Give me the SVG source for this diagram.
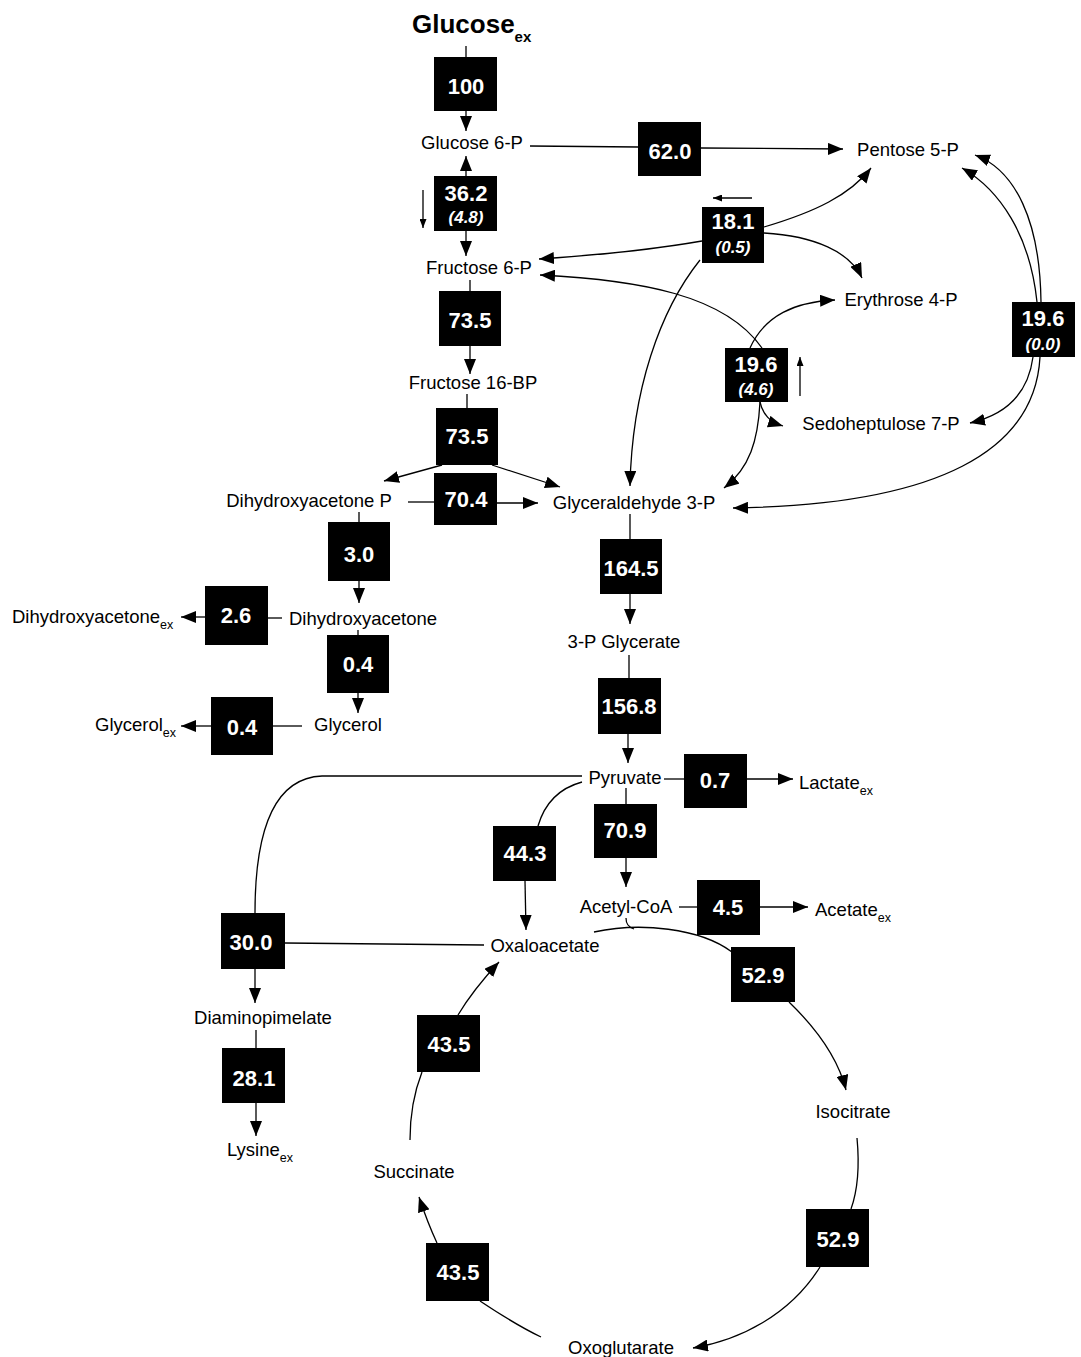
<svg xmlns="http://www.w3.org/2000/svg" width="1081" height="1357" viewBox="0 0 1081 1357">
<style>
.bg{fill:#fff}
.box{fill:#000}
.num{font-family:"Liberation Sans",Arial,sans-serif;font-weight:bold;font-size:22px;fill:#fff;text-anchor:middle}
.sub2{font-family:"Liberation Sans",Arial,sans-serif;font-weight:bold;font-style:italic;font-size:17px;fill:#fff;text-anchor:middle}
.lbl{font-family:"Liberation Sans",Arial,sans-serif;font-size:18.5px;fill:#000;text-anchor:middle}
.lbs{font-family:"Liberation Sans",Arial,sans-serif;font-size:18.5px;fill:#000}
.ex{font-size:12.5px}
.ln{fill:none;stroke:#000;stroke-width:1.3}
.ar{marker-end:url(#ah)}
.sa{marker-end:url(#sh)}
</style>
<defs>
<marker id="ah" markerUnits="userSpaceOnUse" markerWidth="15" markerHeight="12" refX="15" refY="6" orient="auto"><path d="M0,0 L15,6 L0,12 z" fill="#000"/></marker>
<marker id="sh" markerUnits="userSpaceOnUse" markerWidth="9" markerHeight="7" refX="9" refY="3.5" orient="auto"><path d="M0,0 L9,3.5 L0,7 z" fill="#000"/></marker>
</defs>
<rect class="bg" x="0" y="0" width="1081" height="1357"/>

<g id="connectors">
<path class="ln" d="M466 46 L466 57"/>
<path class="ln ar" d="M466 111 L466 131"/>
<path class="ln ar" d="M466 176 L466 156"/>
<path class="ln ar" d="M466 231 L466 256"/>
<path class="ln sa" d="M423 190 L423 228"/>
<path class="ln" d="M530 146 L638 147"/>
<path class="ln ar" d="M701 148 L843 149"/>
<path class="ln" d="M470 280 L470 291"/>
<path class="ln ar" d="M470 346 L470 374"/>
<path class="ln" d="M467 394 L467 408"/>
<path class="ln ar" d="M442 465 L384 481"/>
<path class="ln ar" d="M492 465 L560 487"/>
<path class="ln" d="M408 502 L434 502"/>
<path class="ln ar" d="M497 503 L538 503"/>
<path class="ln ar" d="M702 241 C650 250 600 255 539 259"/>
<path class="ln ar" d="M762 348 C725 295 640 280 540 275"/>
<path class="ln ar" d="M700 260 C660 310 632 390 630 486"/>
<path class="ln ar" d="M764 227 C815 212 850 195 871 168"/>
<path class="ln ar" d="M764 233 C815 236 850 252 862 278"/>
<path class="ln sa" d="M752 198 L713 198"/>
<path class="ln ar" d="M750 348 C765 315 795 302 835 300"/>
<path class="ln ar" d="M760 402 C763 415 770 422 783 426"/>
<path class="ln ar" d="M760 402 C758 440 750 468 724 488"/>
<path class="ln sa" d="M800 396 L800 357"/>
<path class="ln ar" d="M1041 302 C1040 220 1015 170 975 155"/>
<path class="ln ar" d="M1037 302 C1030 235 1000 190 962 168"/>
<path class="ln ar" d="M1033 357 C1028 395 1005 415 970 423"/>
<path class="ln ar" d="M1040 357 C1035 450 940 505 733 508"/>
<path class="ln" d="M359 512 L359 522"/>
<path class="ln ar" d="M359 581 L359 603"/>
<path class="ln" d="M282 618 L268 618"/>
<path class="ln ar" d="M205 617 L181 617"/>
<path class="ln" d="M358 630 L358 635"/>
<path class="ln ar" d="M358 693 L358 713"/>
<path class="ln" d="M302 726 L273 726"/>
<path class="ln ar" d="M211 726 L181 726"/>
<path class="ln" d="M630 514 L630 539"/>
<path class="ln ar" d="M630 594 L630 624"/>
<path class="ln" d="M629 655 L629 678"/>
<path class="ln ar" d="M628 734 L628 763"/>
<path class="ln" d="M664 779 L684 779"/>
<path class="ln ar" d="M747 779 L793 779"/>
<path class="ln" d="M626 788 L626 804"/>
<path class="ln ar" d="M626 858 L626 887"/>
<path class="ln" d="M582 782 C560 788 545 802 538 826"/>
<path class="ln ar" d="M525 881 L526 930"/>
<path class="ln" d="M582 776 L322 776 C270 778 255 840 255 913"/>
<path class="ln" d="M285 943 L484 945"/>
<path class="ln ar" d="M255 969 L255 1003"/>
<path class="ln" d="M256 1030 L256 1048"/>
<path class="ln ar" d="M256 1103 L256 1136"/>
<path class="ln" d="M679 907 L697 907"/>
<path class="ln ar" d="M760 907 L808 907"/>
<path class="ln" d="M594 932 C640 922 700 928 732 952"/>
<path class="ln" d="M626 918 C626 924 628 927 634 929"/>
<path class="ln ar" d="M789 1002 C818 1030 838 1058 846 1090"/>
<path class="ln" d="M857 1138 C860 1170 856 1195 851 1209"/>
<path class="ln ar" d="M820 1267 C790 1315 740 1340 693 1348"/>
<path class="ln" d="M541 1337 C520 1327 498 1313 480 1301"/>
<path class="ln ar" d="M437 1243 C430 1228 424 1212 419 1197"/>
<path class="ln" d="M410 1140 C410 1110 415 1090 422 1072"/>
<path class="ln ar" d="M458 1015 C470 995 485 977 499 962"/>
</g>

<g id="metabolites">
<g id="glucose-ex"><text x="412" y="33" font-family="Liberation Sans, Arial, sans-serif" font-weight="bold" font-size="26">Glucose<tspan font-size="15" dy="9">ex</tspan></text></g>
<g id="glucose6p"><text class="lbl" x="472" y="149">Glucose 6-P</text></g>
<g id="pentose5p"><text class="lbl" x="908" y="156">Pentose 5-P</text></g>
<g id="fructose6p"><text class="lbl" x="479" y="274">Fructose 6-P</text></g>
<g id="erythrose4p"><text class="lbl" x="901" y="306">Erythrose 4-P</text></g>
<g id="fructose16bp"><text class="lbl" x="473" y="389">Fructose 16-BP</text></g>
<g id="sedoheptulose7p"><text class="lbl" x="881" y="430">Sedoheptulose 7-P</text></g>
<g id="dhap"><text class="lbl" x="309" y="507">Dihydroxyacetone P</text></g>
<g id="g3p"><text class="lbl" x="634" y="509">Glyceraldehyde 3-P</text></g>
<g id="dha-ex"><text class="lbs" x="12" y="623">Dihydroxyacetone<tspan class="ex" dy="6">ex</tspan></text></g>
<g id="dha"><text class="lbl" x="363" y="625">Dihydroxyacetone</text></g>
<g id="3pg"><text class="lbl" x="624" y="648">3-P Glycerate</text></g>
<g id="glycerol-ex"><text class="lbs" x="95" y="731">Glycerol<tspan class="ex" dy="6">ex</tspan></text></g>
<g id="glycerol"><text class="lbl" x="348" y="731">Glycerol</text></g>
<g id="pyruvate"><text class="lbl" x="625" y="784">Pyruvate</text></g>
<g id="lactate-ex"><text class="lbs" x="799" y="789">Lactate<tspan class="ex" dy="6">ex</tspan></text></g>
<g id="acetylcoa"><text class="lbl" x="626" y="913">Acetyl-CoA</text></g>
<g id="acetate-ex"><text class="lbs" x="815" y="916">Acetate<tspan class="ex" dy="6">ex</tspan></text></g>
<g id="oxaloacetate"><text class="lbl" x="545" y="952">Oxaloacetate</text></g>
<g id="diaminopimelate"><text class="lbl" x="263" y="1024">Diaminopimelate</text></g>
<g id="lysine-ex"><text class="lbs" x="227" y="1156">Lysine<tspan class="ex" dy="6">ex</tspan></text></g>
<g id="isocitrate"><text class="lbl" x="853" y="1118">Isocitrate</text></g>
<g id="succinate"><text class="lbl" x="414" y="1178">Succinate</text></g>
<g id="oxoglutarate"><text class="lbl" x="621" y="1354">Oxoglutarate</text></g>
</g>

<g id="fluxes">
<g id="f100"><rect class="box" x="434" y="57" width="63" height="54"/><text class="num" x="466" y="94">100</text></g>
<g id="f62"><rect class="box" x="638" y="122" width="63" height="54"/><text class="num" x="670" y="159">62.0</text></g>
<g id="f36"><rect class="box" x="434" y="176" width="63" height="55"/><text class="num" x="466" y="201">36.2</text><text class="sub2" x="466" y="223">(4.8)</text></g>
<g id="f18"><rect class="box" x="702" y="207" width="62" height="56"/><text class="num" x="733" y="229">18.1</text><text class="sub2" x="733" y="253">(0.5)</text></g>
<g id="f73a"><rect class="box" x="439" y="291" width="62" height="55"/><text class="num" x="470" y="328">73.5</text></g>
<g id="f19a"><rect class="box" x="725" y="348" width="63" height="54"/><text class="num" x="756" y="372">19.6</text><text class="sub2" x="756" y="395">(4.6)</text></g>
<g id="f19b"><rect class="box" x="1012" y="302" width="63" height="55"/><text class="num" x="1043" y="326">19.6</text><text class="sub2" x="1043" y="350">(0.0)</text></g>
<g id="f73b"><rect class="box" x="436" y="408" width="62" height="57"/><text class="num" x="467" y="444">73.5</text></g>
<g id="f70"><rect class="box" x="434" y="473" width="63" height="52"/><text class="num" x="466" y="507">70.4</text></g>
<g id="f3"><rect class="box" x="328" y="522" width="62" height="59"/><text class="num" x="359" y="562">3.0</text></g>
<g id="f26"><rect class="box" x="205" y="586" width="63" height="59"/><text class="num" x="236" y="623">2.6</text></g>
<g id="f04a"><rect class="box" x="327" y="635" width="62" height="58"/><text class="num" x="358" y="672">0.4</text></g>
<g id="f04b"><rect class="box" x="211" y="697" width="62" height="58"/><text class="num" x="242" y="735">0.4</text></g>
<g id="f164"><rect class="box" x="600" y="539" width="62" height="55"/><text class="num" x="631" y="576">164.5</text></g>
<g id="f156"><rect class="box" x="598" y="678" width="63" height="56"/><text class="num" x="629" y="714">156.8</text></g>
<g id="f07"><rect class="box" x="684" y="754" width="63" height="54"/><text class="num" x="715" y="788">0.7</text></g>
<g id="f709"><rect class="box" x="594" y="804" width="63" height="54"/><text class="num" x="625" y="838">70.9</text></g>
<g id="f443"><rect class="box" x="493" y="826" width="63" height="55"/><text class="num" x="525" y="861">44.3</text></g>
<g id="f45"><rect class="box" x="697" y="880" width="63" height="55"/><text class="num" x="728" y="915">4.5</text></g>
<g id="f529a"><rect class="box" x="731" y="947" width="64" height="55"/><text class="num" x="763" y="983">52.9</text></g>
<g id="f300"><rect class="box" x="221" y="913" width="64" height="56"/><text class="num" x="251" y="950">30.0</text></g>
<g id="f435a"><rect class="box" x="417" y="1015" width="63" height="57"/><text class="num" x="449" y="1052">43.5</text></g>
<g id="f281"><rect class="box" x="222" y="1048" width="63" height="55"/><text class="num" x="254" y="1086">28.1</text></g>
<g id="f529b"><rect class="box" x="806" y="1209" width="63" height="58"/><text class="num" x="838" y="1247">52.9</text></g>
<g id="f435b"><rect class="box" x="426" y="1243" width="63" height="58"/><text class="num" x="458" y="1280">43.5</text></g>
</g>
</svg>
